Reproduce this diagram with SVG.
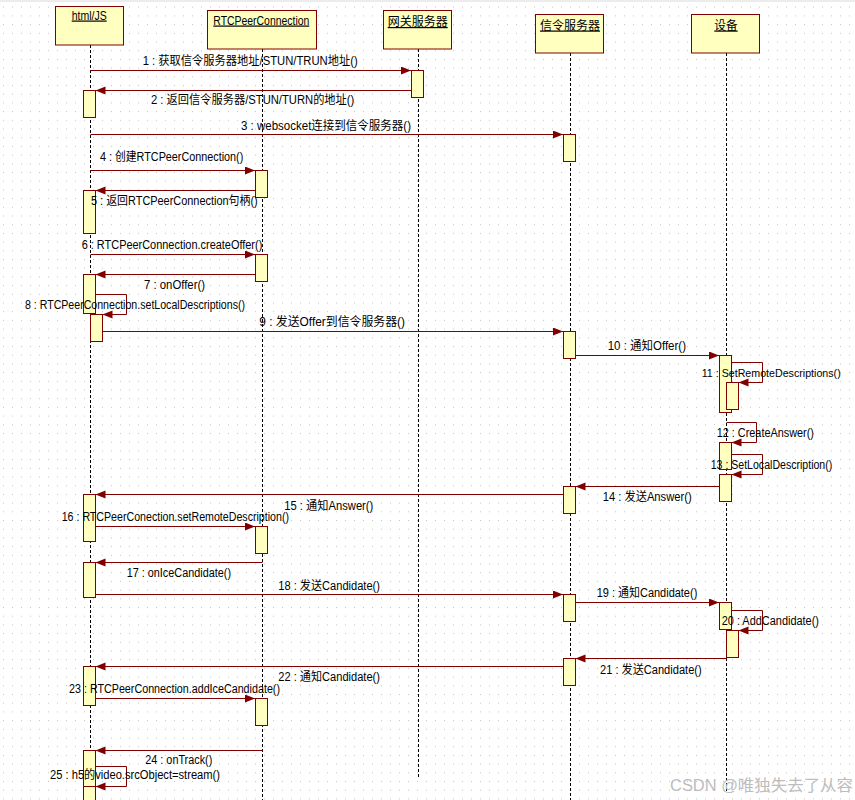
<svg xmlns="http://www.w3.org/2000/svg" width="855" height="800" viewBox="0 0 855 800">
<defs>
<pattern id="grid" x="3" y="6.7" width="9" height="8.7" patternUnits="userSpaceOnUse">
<rect x="0" y="0" width="1" height="1" fill="#c4c4c4"/>
</pattern>
<marker id="ah" markerUnits="userSpaceOnUse" markerWidth="11" markerHeight="9" refX="10" refY="4" orient="auto">
<path d="M0,0 L10,4 L0,8 z" fill="#800000"/>
</marker>
</defs>
<style>
.hdr{fill:#FFFFC0;stroke:#800000;stroke-width:1}
.act{fill:#FFFFC0;stroke:#800000;stroke-width:1}
.life{stroke:#000;stroke-width:1;stroke-dasharray:3 2;fill:none}
.msg{stroke:#800000;stroke-width:1;fill:none;marker-end:url(#ah)}
.t{font-family:"Liberation Sans","Noto Sans CJK SC",sans-serif;font-size:12px;fill:#000}
.h{font-family:"Liberation Sans","Noto Sans CJK SC",sans-serif;font-size:12px;fill:#000;text-decoration:underline}
.wm{font-family:"Liberation Sans","Noto Sans CJK SC",sans-serif;font-size:16px;fill:#bdbdbd}
</style>
<rect width="855" height="800" fill="#fff"/>
<rect width="855" height="800" fill="url(#grid)"/>
<rect width="855" height="2" fill="#ececec"/>

<g id="lifelines">
<line class="life" x1="90.5" y1="45" x2="90.5" y2="800"/>
<line class="life" x1="262.5" y1="49" x2="262.5" y2="800"/>
<line class="life" x1="418.5" y1="49" x2="418.5" y2="777"/>
<line class="life" x1="570.5" y1="53" x2="570.5" y2="800"/>
<line class="life" x1="726.5" y1="53" x2="726.5" y2="793"/>
</g>

<g id="html">
<rect class="hdr" x="55.5" y="6.5" width="68" height="38.5"/>
<text class="h" x="71.7" y="19.5" textLength="35" lengthAdjust="spacingAndGlyphs">html/JS</text>
</g>
<g id="rtc">
<rect class="hdr" x="207.5" y="10.5" width="109" height="38.5"/>
<text class="h" x="213.3" y="24.5" textLength="96" lengthAdjust="spacingAndGlyphs">RTCPeerConnection</text>
</g>
<g id="gateway">
<rect class="hdr" x="383.5" y="10.5" width="68" height="38.5"/>
<text class="h" x="387.7" y="26" textLength="60" lengthAdjust="spacingAndGlyphs">网关服务器</text>
</g>
<g id="signal">
<rect class="hdr" x="535.5" y="14.5" width="68" height="38.5"/>
<text class="h" x="540" y="29.5" textLength="60" lengthAdjust="spacingAndGlyphs">信令服务器</text>
</g>
<g id="device">
<rect class="hdr" x="691.5" y="14.5" width="68" height="38.5"/>
<text class="h" x="714.3" y="29.5" textLength="23.4" lengthAdjust="spacingAndGlyphs">设备</text>
</g>

<g id="activations">
<rect class="act" x="83.5" y="90.5" width="12" height="27"/>
<rect class="act" x="83.5" y="190.5" width="12" height="43"/>
<rect class="act" x="83.5" y="274.5" width="12" height="39"/>
<rect class="act" x="90.5" y="314.5" width="12" height="27"/>
<rect class="act" x="83.5" y="494.5" width="12" height="47"/>
<rect class="act" x="83.5" y="562.5" width="12" height="35"/>
<rect class="act" x="83.5" y="666.5" width="12" height="39"/>
<rect class="act" x="83.5" y="750.5" width="12" height="36"/>
<rect class="act" x="83.5" y="786.5" width="12" height="20"/>
<rect class="act" x="255.5" y="170.5" width="12" height="27"/>
<rect class="act" x="255.5" y="254.5" width="12" height="27"/>
<rect class="act" x="255.5" y="526.5" width="12" height="27"/>
<rect class="act" x="255.5" y="698.5" width="12" height="27"/>
<rect class="act" x="411.5" y="70.5" width="12" height="27"/>
<rect class="act" x="563.5" y="134.5" width="12" height="27"/>
<rect class="act" x="563.5" y="331.5" width="12" height="27"/>
<rect class="act" x="563.5" y="486.5" width="12" height="27"/>
<rect class="act" x="563.5" y="594.5" width="12" height="27"/>
<rect class="act" x="563.5" y="658.5" width="12" height="27"/>
<rect class="act" x="719.5" y="355.5" width="12" height="57"/>
<rect class="act" x="726.5" y="382.5" width="12" height="27"/>
<rect class="act" x="719.5" y="442.5" width="12" height="27"/>
<rect class="act" x="719.5" y="474.5" width="12" height="27"/>
<rect class="act" x="719.5" y="602.5" width="12" height="27"/>
<rect class="act" x="726.5" y="630.5" width="12" height="27"/>
</g>

<g id="connectors">
<path class="msg" d="M90.5,70.5 H411"/>
<path class="msg" d="M411,90.5 H95.5"/>
<path class="msg" d="M90.5,134.5 H563"/>
<path class="msg" d="M90.5,170.5 H255"/>
<path class="msg" d="M255,190.5 H95.5"/>
<path class="msg" d="M90.5,254.5 H255"/>
<path class="msg" d="M255,274.5 H95.5"/>
<path class="msg" d="M95.5,294.5 H126.5 V314.5 H102.5"/>
<path class="msg" d="M102.5,331.5 H563"/>
<path class="msg" d="M575.5,355.5 H719"/>
<path class="msg" d="M731.5,362.5 H762.5 V382.5 H738.5"/>
<path class="msg" d="M726.5,422.5 H756.5 V442.5 H731.5"/>
<path class="msg" d="M731.5,454.5 H762.5 V474.5 H731.5"/>
<path class="msg" d="M719,486.5 H575.5"/>
<path class="msg" d="M563,494.5 H95.5"/>
<path class="msg" d="M95.5,526.5 H255"/>
<path class="msg" d="M262.5,562.5 H95.5"/>
<path class="msg" d="M95.5,594.5 H563"/>
<path class="msg" d="M575.5,602.5 H719"/>
<path class="msg" d="M731.5,610.5 H762.5 V630.5 H738.5"/>
<path class="msg" d="M726.5,658.5 H575.5"/>
<path class="msg" d="M563,666.5 H95.5"/>
<path class="msg" d="M95.5,698.5 H255"/>
<path class="msg" d="M262.5,750.5 H95.5"/>
<path class="msg" d="M95.5,766.5 H126.5 V786.5 H95.5"/>
</g>

<g id="labels">
<text class="t" x="142.7" y="65" textLength="215" lengthAdjust="spacingAndGlyphs">1 : 获取信令服务器地址/STUN/TRUN地址()</text>
<text class="t" x="151" y="103.5" textLength="203.3" lengthAdjust="spacingAndGlyphs">2 : 返回信令服务器/STUN/TURN的地址()</text>
<text class="t" x="241" y="129.5" textLength="170" lengthAdjust="spacingAndGlyphs">3 : websocket连接到信令服务器()</text>
<text class="t" x="100" y="161" textLength="143.3" lengthAdjust="spacingAndGlyphs">4 : 创建RTCPeerConnection()</text>
<text class="t" x="91" y="205" textLength="166.7" lengthAdjust="spacingAndGlyphs">5 : 返回RTCPeerConnection句柄()</text>
<text class="t" x="81.7" y="248.5" textLength="180.6" lengthAdjust="spacingAndGlyphs">6 : RTCPeerConnection.createOffer()</text>
<text class="t" x="144" y="288.5" textLength="61" lengthAdjust="spacingAndGlyphs">7 : onOffer()</text>
<text class="t" x="25" y="308.5" textLength="220" lengthAdjust="spacingAndGlyphs">8 : RTCPeerConnection.setLocalDescriptions()</text>
<text class="t" x="259.3" y="326" textLength="145.7" lengthAdjust="spacingAndGlyphs">9 : 发送Offer到信令服务器()</text>
<text class="t" x="607.7" y="350" textLength="78.3" lengthAdjust="spacingAndGlyphs">10 : 通知Offer()</text>
<text class="t" x="701.7" y="377" style="font-size:11px" textLength="139" lengthAdjust="spacingAndGlyphs">11 : SetRemoteDescriptions()</text>
<text class="t" x="716.7" y="437" textLength="97.3" lengthAdjust="spacingAndGlyphs">12 : CreateAnswer()</text>
<text class="t" x="710.7" y="468.5" textLength="121.6" lengthAdjust="spacingAndGlyphs">13 : SetLocalDescription()</text>
<text class="t" x="602.7" y="501" textLength="89" lengthAdjust="spacingAndGlyphs">14 : 发送Answer()</text>
<text class="t" x="284.3" y="509.5" textLength="89" lengthAdjust="spacingAndGlyphs">15 : 通知Answer()</text>
<text class="t" x="61.7" y="521" textLength="227.3" lengthAdjust="spacingAndGlyphs">16 : RTCPeerConection.setRemoteDescription()</text>
<text class="t" x="126.7" y="577" textLength="104.3" lengthAdjust="spacingAndGlyphs">17 : onIceCandidate()</text>
<text class="t" x="278.3" y="589.5" textLength="101.7" lengthAdjust="spacingAndGlyphs">18 : 发送Candidate()</text>
<text class="t" x="596.7" y="597" textLength="100.6" lengthAdjust="spacingAndGlyphs">19 : 通知Candidate()</text>
<text class="t" x="721.7" y="625" textLength="97.3" lengthAdjust="spacingAndGlyphs">20 : AddCandidate()</text>
<text class="t" x="600" y="673.5" textLength="101.7" lengthAdjust="spacingAndGlyphs">21 : 发送Candidate()</text>
<text class="t" x="278.3" y="681" textLength="101.7" lengthAdjust="spacingAndGlyphs">22 : 通知Candidate()</text>
<text class="t" x="69" y="693" textLength="211" lengthAdjust="spacingAndGlyphs">23 : RTCPeerConnection.addIceCandidate()</text>
<text class="t" x="145.3" y="764" textLength="67" lengthAdjust="spacingAndGlyphs">24 : onTrack()</text>
<text class="t" x="50" y="779.3" textLength="170" lengthAdjust="spacingAndGlyphs">25 : h5的video.srcObject=stream()</text>
</g>
<text class="wm" x="670" y="791" textLength="183" lengthAdjust="spacingAndGlyphs">CSDN @唯独失去了从容</text>
</svg>
